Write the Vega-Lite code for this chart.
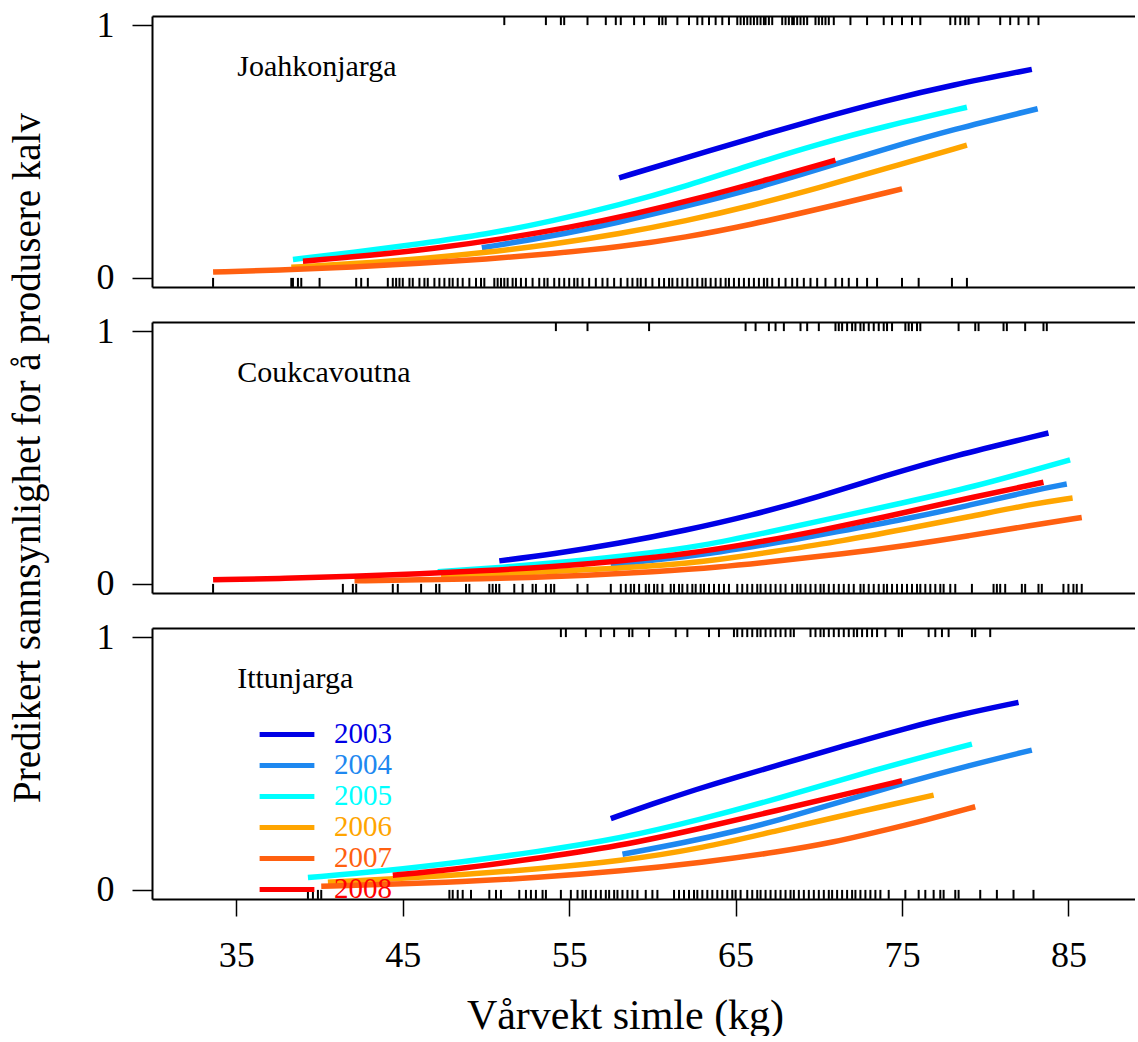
{
  "$schema": "https://vega.github.io/schema/vega-lite/v6.json",
  "padding": {"left": 8, "top": 7, "right": 0, "bottom": 0},
  "config": {
    "font": "Liberation Serif",
    "view": {"stroke": null},
    "axis": {"labelFont": "Liberation Serif", "titleFont": "Liberation Serif", "labelColor": "black", "titleColor": "black", "tickColor": "black", "titleFontWeight": "normal", "grid": false, "domain": true, "domainColor": "black", "domainWidth": 2, "tickWidth": 1.5},
    "text": {"font": "Liberation Serif", "fontSize": 30, "align": "left", "baseline": "alphabetic", "color": "black"},
    "tick": {"opacity": 1, "thickness": 2, "color": "black"}
  },
  "datasets": {
    "labels": [{"panel":"J","label":"Joahkonjarga","w":35.05,"p":0.80},{"panel":"C","label":"Coukcavoutna","w":35.05,"p":0.80},{"panel":"I","label":"Ittunjarga","w":35.05,"p":0.80}],
    "curves": [
      {"panel":"J","year":"2003","w":58.0,"p":0.396},{"panel":"J","year":"2003","w":62,"p":0.474},{"panel":"J","year":"2003","w":66,"p":0.554},{"panel":"J","year":"2003","w":70,"p":0.630},{"panel":"J","year":"2003","w":74,"p":0.701},{"panel":"J","year":"2003","w":78,"p":0.763},{"panel":"J","year":"2003","w":82.8,"p":0.825},
      {"panel":"J","year":"2004","w":49.75,"p":0.119},{"panel":"J","year":"2004","w":54,"p":0.165},{"panel":"J","year":"2004","w":58,"p":0.220},{"panel":"J","year":"2004","w":62,"p":0.283},{"panel":"J","year":"2004","w":66,"p":0.350},{"panel":"J","year":"2004","w":70,"p":0.430},{"panel":"J","year":"2004","w":74,"p":0.510},{"panel":"J","year":"2004","w":78,"p":0.586},{"panel":"J","year":"2004","w":83.15,"p":0.669},
      {"panel":"J","year":"2005","w":38.4,"p":0.073},{"panel":"J","year":"2005","w":42,"p":0.100},{"panel":"J","year":"2005","w":46,"p":0.135},{"panel":"J","year":"2005","w":50,"p":0.172},{"panel":"J","year":"2005","w":54,"p":0.225},{"panel":"J","year":"2005","w":58,"p":0.288},{"panel":"J","year":"2005","w":62,"p":0.362},{"panel":"J","year":"2005","w":66,"p":0.449},{"panel":"J","year":"2005","w":70,"p":0.530},{"panel":"J","year":"2005","w":74,"p":0.600},{"panel":"J","year":"2005","w":78.9,"p":0.675},
      {"panel":"J","year":"2006","w":38.3,"p":0.042},{"panel":"J","year":"2006","w":42,"p":0.056},{"panel":"J","year":"2006","w":46,"p":0.075},{"panel":"J","year":"2006","w":50,"p":0.100},{"panel":"J","year":"2006","w":54,"p":0.133},{"panel":"J","year":"2006","w":58,"p":0.174},{"panel":"J","year":"2006","w":62,"p":0.225},{"panel":"J","year":"2006","w":66,"p":0.286},{"panel":"J","year":"2006","w":70,"p":0.356},{"panel":"J","year":"2006","w":74,"p":0.432},{"panel":"J","year":"2006","w":78.9,"p":0.525},
      {"panel":"J","year":"2007","w":33.6,"p":0.023},{"panel":"J","year":"2007","w":38,"p":0.032},{"panel":"J","year":"2007","w":42,"p":0.043},{"panel":"J","year":"2007","w":46,"p":0.057},{"panel":"J","year":"2007","w":50,"p":0.074},{"panel":"J","year":"2007","w":54,"p":0.096},{"panel":"J","year":"2007","w":58,"p":0.122},{"panel":"J","year":"2007","w":62,"p":0.160},{"panel":"J","year":"2007","w":66,"p":0.212},{"panel":"J","year":"2007","w":70,"p":0.272},{"panel":"J","year":"2007","w":75,"p":0.352},
      {"panel":"J","year":"2008","w":39,"p":0.066},{"panel":"J","year":"2008","w":43,"p":0.088},{"panel":"J","year":"2008","w":47,"p":0.117},{"panel":"J","year":"2008","w":51,"p":0.154},{"panel":"J","year":"2008","w":55,"p":0.199},{"panel":"J","year":"2008","w":59,"p":0.254},{"panel":"J","year":"2008","w":63,"p":0.318},{"panel":"J","year":"2008","w":67,"p":0.390},{"panel":"J","year":"2008","w":71,"p":0.466},
      {"panel":"C","year":"2003","w":50.8,"p":0.091},{"panel":"C","year":"2003","w":54,"p":0.118},{"panel":"C","year":"2003","w":58,"p":0.160},{"panel":"C","year":"2003","w":62,"p":0.212},{"panel":"C","year":"2003","w":66,"p":0.272},{"panel":"C","year":"2003","w":70,"p":0.345},{"panel":"C","year":"2003","w":74,"p":0.428},{"panel":"C","year":"2003","w":78,"p":0.505},{"panel":"C","year":"2003","w":83.8,"p":0.597},
      {"panel":"C","year":"2004","w":57.5,"p":0.076},{"panel":"C","year":"2004","w":61,"p":0.100},{"panel":"C","year":"2004","w":64,"p":0.125},{"panel":"C","year":"2004","w":67.6,"p":0.164},{"panel":"C","year":"2004","w":71,"p":0.205},{"panel":"C","year":"2004","w":75.2,"p":0.256},{"panel":"C","year":"2004","w":79,"p":0.310},{"panel":"C","year":"2004","w":82.8,"p":0.369},{"panel":"C","year":"2004","w":84.9,"p":0.395},
      {"panel":"C","year":"2005","w":47.1,"p":0.048},{"panel":"C","year":"2005","w":51,"p":0.065},{"panel":"C","year":"2005","w":55,"p":0.088},{"panel":"C","year":"2005","w":59,"p":0.115},{"panel":"C","year":"2005","w":63,"p":0.150},{"panel":"C","year":"2005","w":67,"p":0.205},{"panel":"C","year":"2005","w":71,"p":0.262},{"panel":"C","year":"2005","w":75,"p":0.320},{"panel":"C","year":"2005","w":79,"p":0.378},{"panel":"C","year":"2005","w":85.1,"p":0.491},
      {"panel":"C","year":"2006","w":47.3,"p":0.032},{"panel":"C","year":"2006","w":51,"p":0.040},{"panel":"C","year":"2006","w":55,"p":0.052},{"panel":"C","year":"2006","w":60,"p":0.069},{"panel":"C","year":"2006","w":64,"p":0.095},{"panel":"C","year":"2006","w":67.6,"p":0.131},{"panel":"C","year":"2006","w":71.4,"p":0.170},{"panel":"C","year":"2006","w":75.2,"p":0.217},{"panel":"C","year":"2006","w":79,"p":0.265},{"panel":"C","year":"2006","w":82.8,"p":0.316},{"panel":"C","year":"2006","w":85.25,"p":0.340},
      {"panel":"C","year":"2007","w":42.1,"p":0.012},{"panel":"C","year":"2007","w":46,"p":0.016},{"panel":"C","year":"2007","w":50,"p":0.020},{"panel":"C","year":"2007","w":52.4,"p":0.025},{"panel":"C","year":"2007","w":56,"p":0.033},{"panel":"C","year":"2007","w":60,"p":0.048},{"panel":"C","year":"2007","w":64,"p":0.066},{"panel":"C","year":"2007","w":67.6,"p":0.091},{"panel":"C","year":"2007","w":71.4,"p":0.118},{"panel":"C","year":"2007","w":75.2,"p":0.151},{"panel":"C","year":"2007","w":79,"p":0.190},{"panel":"C","year":"2007","w":82.8,"p":0.232},{"panel":"C","year":"2007","w":85.8,"p":0.263},
      {"panel":"C","year":"2008","w":33.6,"p":0.016},{"panel":"C","year":"2008","w":38,"p":0.022},{"panel":"C","year":"2008","w":42,"p":0.030},{"panel":"C","year":"2008","w":46,"p":0.040},{"panel":"C","year":"2008","w":50,"p":0.052},{"panel":"C","year":"2008","w":54,"p":0.068},{"panel":"C","year":"2008","w":58,"p":0.090},{"panel":"C","year":"2008","w":62,"p":0.118},{"panel":"C","year":"2008","w":66,"p":0.160},{"panel":"C","year":"2008","w":70,"p":0.210},{"panel":"C","year":"2008","w":74,"p":0.265},{"panel":"C","year":"2008","w":78,"p":0.325},{"panel":"C","year":"2008","w":83.5,"p":0.402},
      {"panel":"I","year":"2003","w":57.5,"p":0.282},{"panel":"I","year":"2003","w":60,"p":0.340},{"panel":"I","year":"2003","w":62.65,"p":0.398},{"panel":"I","year":"2003","w":65,"p":0.445},{"panel":"I","year":"2003","w":67.6,"p":0.494},{"panel":"I","year":"2003","w":71.4,"p":0.568},{"panel":"I","year":"2003","w":75.2,"p":0.639},{"panel":"I","year":"2003","w":78.5,"p":0.694},{"panel":"I","year":"2003","w":82.0,"p":0.742},
      {"panel":"I","year":"2004","w":58.2,"p":0.141},{"panel":"I","year":"2004","w":62,"p":0.188},{"panel":"I","year":"2004","w":65,"p":0.232},{"panel":"I","year":"2004","w":67.6,"p":0.276},{"panel":"I","year":"2004","w":71.4,"p":0.350},{"panel":"I","year":"2004","w":75.2,"p":0.424},{"panel":"I","year":"2004","w":79,"p":0.492},{"panel":"I","year":"2004","w":82.8,"p":0.553},
      {"panel":"I","year":"2005","w":39.3,"p":0.049},{"panel":"I","year":"2005","w":44,"p":0.075},{"panel":"I","year":"2005","w":48.6,"p":0.111},{"panel":"I","year":"2005","w":53,"p":0.150},{"panel":"I","year":"2005","w":58.1,"p":0.203},{"panel":"I","year":"2005","w":63,"p":0.280},{"panel":"I","year":"2005","w":67.6,"p":0.362},{"panel":"I","year":"2005","w":73.3,"p":0.474},{"panel":"I","year":"2005","w":79.2,"p":0.577},
      {"panel":"I","year":"2006","w":40.5,"p":0.030},{"panel":"I","year":"2006","w":44,"p":0.042},{"panel":"I","year":"2006","w":48.6,"p":0.060},{"panel":"I","year":"2006","w":53,"p":0.082},{"panel":"I","year":"2006","w":58.1,"p":0.114},{"panel":"I","year":"2006","w":63,"p":0.165},{"panel":"I","year":"2006","w":67.6,"p":0.236},{"panel":"I","year":"2006","w":71.4,"p":0.293},{"panel":"I","year":"2006","w":73.3,"p":0.322},{"panel":"I","year":"2006","w":76.9,"p":0.375},
      {"panel":"I","year":"2007","w":40.1,"p":0.014},{"panel":"I","year":"2007","w":44,"p":0.022},{"panel":"I","year":"2007","w":48.6,"p":0.032},{"panel":"I","year":"2007","w":53,"p":0.048},{"panel":"I","year":"2007","w":58.1,"p":0.074},{"panel":"I","year":"2007","w":63,"p":0.108},{"panel":"I","year":"2007","w":67.6,"p":0.150},{"panel":"I","year":"2007","w":71,"p":0.190},{"panel":"I","year":"2007","w":73.3,"p":0.226},{"panel":"I","year":"2007","w":76.5,"p":0.277},{"panel":"I","year":"2007","w":79.4,"p":0.329},
      {"panel":"I","year":"2008","w":44.4,"p":0.058},{"panel":"I","year":"2008","w":48,"p":0.080},{"panel":"I","year":"2008","w":52.4,"p":0.118},{"panel":"I","year":"2008","w":58.1,"p":0.174},{"panel":"I","year":"2008","w":63,"p":0.245},{"panel":"I","year":"2008","w":67.6,"p":0.316},{"panel":"I","year":"2008","w":71.4,"p":0.375},{"panel":"I","year":"2008","w":75.0,"p":0.432}
    ],
    "rug": [
      {"panel":"J","calf":1,"w":51.1},{"panel":"J","calf":1,"w":53.6},{"panel":"J","calf":1,"w":54.5},{"panel":"J","calf":1,"w":54.7},{"panel":"J","calf":1,"w":56.1},{"panel":"J","calf":1,"w":57.2},{"panel":"J","calf":1,"w":57.8},{"panel":"J","calf":1,"w":58.1},{"panel":"J","calf":1,"w":58.9},{"panel":"J","calf":1,"w":59.5},{"panel":"J","calf":1,"w":60.4},{"panel":"J","calf":1,"w":60.6},{"panel":"J","calf":1,"w":60.8},{"panel":"J","calf":1,"w":61.5},{"panel":"J","calf":1,"w":62.2},{"panel":"J","calf":1,"w":62.7},{"panel":"J","calf":1,"w":63.0},{"panel":"J","calf":1,"w":63.4},{"panel":"J","calf":1,"w":63.8},{"panel":"J","calf":1,"w":64.2},{"panel":"J","calf":1,"w":64.6},{"panel":"J","calf":1,"w":65.1},{"panel":"J","calf":1,"w":65.3},{"panel":"J","calf":1,"w":65.5},{"panel":"J","calf":1,"w":65.7},{"panel":"J","calf":1,"w":65.9},{"panel":"J","calf":1,"w":66.1},{"panel":"J","calf":1,"w":66.3},{"panel":"J","calf":1,"w":66.5},{"panel":"J","calf":1,"w":66.7},{"panel":"J","calf":1,"w":66.8},{"panel":"J","calf":1,"w":67.0},{"panel":"J","calf":1,"w":67.2},{"panel":"J","calf":1,"w":67.8},{"panel":"J","calf":1,"w":68.0},{"panel":"J","calf":1,"w":68.2},{"panel":"J","calf":1,"w":68.4},{"panel":"J","calf":1,"w":68.5},{"panel":"J","calf":1,"w":68.7},{"panel":"J","calf":1,"w":68.9},{"panel":"J","calf":1,"w":69.1},{"panel":"J","calf":1,"w":69.3},{"panel":"J","calf":1,"w":69.8},{"panel":"J","calf":1,"w":70.0},{"panel":"J","calf":1,"w":70.2},{"panel":"J","calf":1,"w":70.4},{"panel":"J","calf":1,"w":70.6},{"panel":"J","calf":1,"w":70.9},{"panel":"J","calf":1,"w":71.9},{"panel":"J","calf":1,"w":72.9},{"panel":"J","calf":1,"w":73.9},{"panel":"J","calf":1,"w":74.4},{"panel":"J","calf":1,"w":75.0},{"panel":"J","calf":1,"w":75.6},{"panel":"J","calf":1,"w":76.1},{"panel":"J","calf":1,"w":77.9},{"panel":"J","calf":1,"w":78.2},{"panel":"J","calf":1,"w":78.5},{"panel":"J","calf":1,"w":78.8},{"panel":"J","calf":1,"w":79.0},{"panel":"J","calf":1,"w":79.6},{"panel":"J","calf":1,"w":80.9},{"panel":"J","calf":1,"w":81.5},{"panel":"J","calf":1,"w":82.0},{"panel":"J","calf":1,"w":82.6},{"panel":"J","calf":1,"w":83.2},
      {"panel":"J","calf":0,"w":33.6},{"panel":"J","calf":0,"w":38.3},{"panel":"J","calf":0,"w":38.4},{"panel":"J","calf":0,"w":38.7},{"panel":"J","calf":0,"w":38.9},{"panel":"J","calf":0,"w":40.0},{"panel":"J","calf":0,"w":42.2},{"panel":"J","calf":0,"w":42.5},{"panel":"J","calf":0,"w":42.9},{"panel":"J","calf":0,"w":44.1},{"panel":"J","calf":0,"w":44.4},{"panel":"J","calf":0,"w":44.6},{"panel":"J","calf":0,"w":44.8},{"panel":"J","calf":0,"w":45.0},{"panel":"J","calf":0,"w":45.4},{"panel":"J","calf":0,"w":45.6},{"panel":"J","calf":0,"w":46.0},{"panel":"J","calf":0,"w":46.3},{"panel":"J","calf":0,"w":46.5},{"panel":"J","calf":0,"w":46.9},{"panel":"J","calf":0,"w":47.2},{"panel":"J","calf":0,"w":47.5},{"panel":"J","calf":0,"w":47.8},{"panel":"J","calf":0,"w":48.0},{"panel":"J","calf":0,"w":48.3},{"panel":"J","calf":0,"w":48.6},{"panel":"J","calf":0,"w":49.0},{"panel":"J","calf":0,"w":49.4},{"panel":"J","calf":0,"w":49.7},{"panel":"J","calf":0,"w":49.9},{"panel":"J","calf":0,"w":50.5},{"panel":"J","calf":0,"w":50.7},{"panel":"J","calf":0,"w":50.9},{"panel":"J","calf":0,"w":51.1},{"panel":"J","calf":0,"w":51.3},{"panel":"J","calf":0,"w":51.6},{"panel":"J","calf":0,"w":51.8},{"panel":"J","calf":0,"w":52.1},{"panel":"J","calf":0,"w":52.4},{"panel":"J","calf":0,"w":52.8},{"panel":"J","calf":0,"w":53.2},{"panel":"J","calf":0,"w":53.5},{"panel":"J","calf":0,"w":53.7},{"panel":"J","calf":0,"w":54.1},{"panel":"J","calf":0,"w":54.4},{"panel":"J","calf":0,"w":54.7},{"panel":"J","calf":0,"w":55.0},{"panel":"J","calf":0,"w":55.3},{"panel":"J","calf":0,"w":55.5},{"panel":"J","calf":0,"w":55.8},{"panel":"J","calf":0,"w":56.2},{"panel":"J","calf":0,"w":56.6},{"panel":"J","calf":0,"w":57.0},{"panel":"J","calf":0,"w":57.3},{"panel":"J","calf":0,"w":57.7},{"panel":"J","calf":0,"w":58.1},{"panel":"J","calf":0,"w":58.5},{"panel":"J","calf":0,"w":58.8},{"panel":"J","calf":0,"w":59.1},{"panel":"J","calf":0,"w":59.3},{"panel":"J","calf":0,"w":59.6},{"panel":"J","calf":0,"w":60.0},{"panel":"J","calf":0,"w":60.4},{"panel":"J","calf":0,"w":60.7},{"panel":"J","calf":0,"w":61.0},{"panel":"J","calf":0,"w":61.2},{"panel":"J","calf":0,"w":61.5},{"panel":"J","calf":0,"w":61.8},{"panel":"J","calf":0,"w":62.1},{"panel":"J","calf":0,"w":62.4},{"panel":"J","calf":0,"w":62.7},{"panel":"J","calf":0,"w":63.0},{"panel":"J","calf":0,"w":63.2},{"panel":"J","calf":0,"w":63.5},{"panel":"J","calf":0,"w":63.8},{"panel":"J","calf":0,"w":64.1},{"panel":"J","calf":0,"w":64.4},{"panel":"J","calf":0,"w":64.6},{"panel":"J","calf":0,"w":64.9},{"panel":"J","calf":0,"w":65.2},{"panel":"J","calf":0,"w":65.5},{"panel":"J","calf":0,"w":65.8},{"panel":"J","calf":0,"w":66.1},{"panel":"J","calf":0,"w":66.4},{"panel":"J","calf":0,"w":66.7},{"panel":"J","calf":0,"w":66.9},{"panel":"J","calf":0,"w":67.2},{"panel":"J","calf":0,"w":67.6},{"panel":"J","calf":0,"w":68.0},{"panel":"J","calf":0,"w":68.4},{"panel":"J","calf":0,"w":68.7},{"panel":"J","calf":0,"w":69.1},{"panel":"J","calf":0,"w":69.5},{"panel":"J","calf":0,"w":69.9},{"panel":"J","calf":0,"w":70.4},{"panel":"J","calf":0,"w":71.0},{"panel":"J","calf":0,"w":71.4},{"panel":"J","calf":0,"w":71.8},{"panel":"J","calf":0,"w":72.3},{"panel":"J","calf":0,"w":72.9},{"panel":"J","calf":0,"w":73.5},{"panel":"J","calf":0,"w":75.0},{"panel":"J","calf":0,"w":76.0},{"panel":"J","calf":0,"w":78.0},{"panel":"J","calf":0,"w":78.9},
      {"panel":"C","calf":1,"w":54.2},{"panel":"C","calf":1,"w":56.1},{"panel":"C","calf":1,"w":59.8},{"panel":"C","calf":1,"w":65.6},{"panel":"C","calf":1,"w":66.2},{"panel":"C","calf":1,"w":67.0},{"panel":"C","calf":1,"w":67.4},{"panel":"C","calf":1,"w":67.9},{"panel":"C","calf":1,"w":68.9},{"panel":"C","calf":1,"w":69.3},{"panel":"C","calf":1,"w":70.0},{"panel":"C","calf":1,"w":71.0},{"panel":"C","calf":1,"w":71.2},{"panel":"C","calf":1,"w":71.4},{"panel":"C","calf":1,"w":71.7},{"panel":"C","calf":1,"w":72.0},{"panel":"C","calf":1,"w":72.2},{"panel":"C","calf":1,"w":72.5},{"panel":"C","calf":1,"w":72.7},{"panel":"C","calf":1,"w":73.0},{"panel":"C","calf":1,"w":73.3},{"panel":"C","calf":1,"w":73.6},{"panel":"C","calf":1,"w":73.9},{"panel":"C","calf":1,"w":74.1},{"panel":"C","calf":1,"w":74.4},{"panel":"C","calf":1,"w":75.2},{"panel":"C","calf":1,"w":75.4},{"panel":"C","calf":1,"w":75.6},{"panel":"C","calf":1,"w":75.9},{"panel":"C","calf":1,"w":76.1},{"panel":"C","calf":1,"w":78.4},{"panel":"C","calf":1,"w":79.4},{"panel":"C","calf":1,"w":79.6},{"panel":"C","calf":1,"w":81.1},{"panel":"C","calf":1,"w":81.3},{"panel":"C","calf":1,"w":82.4},{"panel":"C","calf":1,"w":83.5},{"panel":"C","calf":1,"w":83.7},
      {"panel":"C","calf":0,"w":33.6},{"panel":"C","calf":0,"w":41.4},{"panel":"C","calf":0,"w":42.0},{"panel":"C","calf":0,"w":42.2},{"panel":"C","calf":0,"w":44.4},{"panel":"C","calf":0,"w":44.7},{"panel":"C","calf":0,"w":46.1},{"panel":"C","calf":0,"w":47.0},{"panel":"C","calf":0,"w":47.2},{"panel":"C","calf":0,"w":48.8},{"panel":"C","calf":0,"w":49.0},{"panel":"C","calf":0,"w":50.2},{"panel":"C","calf":0,"w":50.4},{"panel":"C","calf":0,"w":50.6},{"panel":"C","calf":0,"w":50.8},{"panel":"C","calf":0,"w":51.7},{"panel":"C","calf":0,"w":52.2},{"panel":"C","calf":0,"w":52.8},{"panel":"C","calf":0,"w":53.0},{"panel":"C","calf":0,"w":53.6},{"panel":"C","calf":0,"w":53.9},{"panel":"C","calf":0,"w":54.1},{"panel":"C","calf":0,"w":55.5},{"panel":"C","calf":0,"w":56.1},{"panel":"C","calf":0,"w":57.5},{"panel":"C","calf":0,"w":58.1},{"panel":"C","calf":0,"w":58.4},{"panel":"C","calf":0,"w":58.7},{"panel":"C","calf":0,"w":58.9},{"panel":"C","calf":0,"w":59.2},{"panel":"C","calf":0,"w":59.6},{"panel":"C","calf":0,"w":59.8},{"panel":"C","calf":0,"w":60.1},{"panel":"C","calf":0,"w":60.3},{"panel":"C","calf":0,"w":60.6},{"panel":"C","calf":0,"w":61.1},{"panel":"C","calf":0,"w":61.3},{"panel":"C","calf":0,"w":61.6},{"panel":"C","calf":0,"w":61.8},{"panel":"C","calf":0,"w":62.1},{"panel":"C","calf":0,"w":62.4},{"panel":"C","calf":0,"w":62.6},{"panel":"C","calf":0,"w":62.9},{"panel":"C","calf":0,"w":63.1},{"panel":"C","calf":0,"w":63.4},{"panel":"C","calf":0,"w":63.7},{"panel":"C","calf":0,"w":64.0},{"panel":"C","calf":0,"w":64.3},{"panel":"C","calf":0,"w":64.6},{"panel":"C","calf":0,"w":65.1},{"panel":"C","calf":0,"w":65.4},{"panel":"C","calf":0,"w":65.7},{"panel":"C","calf":0,"w":66.0},{"panel":"C","calf":0,"w":66.3},{"panel":"C","calf":0,"w":66.5},{"panel":"C","calf":0,"w":66.8},{"panel":"C","calf":0,"w":67.1},{"panel":"C","calf":0,"w":67.4},{"panel":"C","calf":0,"w":67.7},{"panel":"C","calf":0,"w":68.0},{"panel":"C","calf":0,"w":68.4},{"panel":"C","calf":0,"w":68.7},{"panel":"C","calf":0,"w":68.9},{"panel":"C","calf":0,"w":69.2},{"panel":"C","calf":0,"w":69.5},{"panel":"C","calf":0,"w":69.8},{"panel":"C","calf":0,"w":70.1},{"panel":"C","calf":0,"w":70.3},{"panel":"C","calf":0,"w":70.6},{"panel":"C","calf":0,"w":70.9},{"panel":"C","calf":0,"w":71.2},{"panel":"C","calf":0,"w":71.5},{"panel":"C","calf":0,"w":71.8},{"panel":"C","calf":0,"w":72.1},{"panel":"C","calf":0,"w":72.5},{"panel":"C","calf":0,"w":72.7},{"panel":"C","calf":0,"w":73.0},{"panel":"C","calf":0,"w":73.3},{"panel":"C","calf":0,"w":73.6},{"panel":"C","calf":0,"w":73.9},{"panel":"C","calf":0,"w":74.1},{"panel":"C","calf":0,"w":74.4},{"panel":"C","calf":0,"w":74.7},{"panel":"C","calf":0,"w":75.0},{"panel":"C","calf":0,"w":75.3},{"panel":"C","calf":0,"w":75.6},{"panel":"C","calf":0,"w":75.9},{"panel":"C","calf":0,"w":76.1},{"panel":"C","calf":0,"w":76.4},{"panel":"C","calf":0,"w":76.7},{"panel":"C","calf":0,"w":77.0},{"panel":"C","calf":0,"w":77.3},{"panel":"C","calf":0,"w":77.5},{"panel":"C","calf":0,"w":77.9},{"panel":"C","calf":0,"w":78.2},{"panel":"C","calf":0,"w":79.2},{"panel":"C","calf":0,"w":80.5},{"panel":"C","calf":0,"w":80.7},{"panel":"C","calf":0,"w":80.9},{"panel":"C","calf":0,"w":81.2},{"panel":"C","calf":0,"w":82.2},{"panel":"C","calf":0,"w":82.4},{"panel":"C","calf":0,"w":83.2},{"panel":"C","calf":0,"w":83.4},{"panel":"C","calf":0,"w":84.7},{"panel":"C","calf":0,"w":85.0},{"panel":"C","calf":0,"w":85.3},{"panel":"C","calf":0,"w":85.5},{"panel":"C","calf":0,"w":85.8},
      {"panel":"I","calf":1,"w":54.5},{"panel":"I","calf":1,"w":54.8},{"panel":"I","calf":1,"w":56.0},{"panel":"I","calf":1,"w":56.9},{"panel":"I","calf":1,"w":57.7},{"panel":"I","calf":1,"w":58.6},{"panel":"I","calf":1,"w":58.8},{"panel":"I","calf":1,"w":59.8},{"panel":"I","calf":1,"w":61.4},{"panel":"I","calf":1,"w":62.1},{"panel":"I","calf":1,"w":63.4},{"panel":"I","calf":1,"w":64.0},{"panel":"I","calf":1,"w":64.9},{"panel":"I","calf":1,"w":65.1},{"panel":"I","calf":1,"w":65.4},{"panel":"I","calf":1,"w":65.7},{"panel":"I","calf":1,"w":66.0},{"panel":"I","calf":1,"w":66.3},{"panel":"I","calf":1,"w":66.5},{"panel":"I","calf":1,"w":66.8},{"panel":"I","calf":1,"w":67.1},{"panel":"I","calf":1,"w":67.4},{"panel":"I","calf":1,"w":67.7},{"panel":"I","calf":1,"w":68.0},{"panel":"I","calf":1,"w":68.3},{"panel":"I","calf":1,"w":68.5},{"panel":"I","calf":1,"w":69.5},{"panel":"I","calf":1,"w":69.8},{"panel":"I","calf":1,"w":70.1},{"panel":"I","calf":1,"w":70.3},{"panel":"I","calf":1,"w":70.6},{"panel":"I","calf":1,"w":70.9},{"panel":"I","calf":1,"w":71.2},{"panel":"I","calf":1,"w":71.5},{"panel":"I","calf":1,"w":71.8},{"panel":"I","calf":1,"w":72.1},{"panel":"I","calf":1,"w":72.3},{"panel":"I","calf":1,"w":72.6},{"panel":"I","calf":1,"w":72.9},{"panel":"I","calf":1,"w":73.2},{"panel":"I","calf":1,"w":73.5},{"panel":"I","calf":1,"w":74.0},{"panel":"I","calf":1,"w":74.8},{"panel":"I","calf":1,"w":75.0},{"panel":"I","calf":1,"w":76.6},{"panel":"I","calf":1,"w":77.0},{"panel":"I","calf":1,"w":77.4},{"panel":"I","calf":1,"w":77.8},{"panel":"I","calf":1,"w":79.2},{"panel":"I","calf":1,"w":79.4},{"panel":"I","calf":1,"w":80.3},
      {"panel":"I","calf":0,"w":39.3},{"panel":"I","calf":0,"w":39.6},{"panel":"I","calf":0,"w":39.9},{"panel":"I","calf":0,"w":40.1},{"panel":"I","calf":0,"w":47.8},{"panel":"I","calf":0,"w":48.0},{"panel":"I","calf":0,"w":48.3},{"panel":"I","calf":0,"w":48.6},{"panel":"I","calf":0,"w":49.1},{"panel":"I","calf":0,"w":50.2},{"panel":"I","calf":0,"w":50.6},{"panel":"I","calf":0,"w":50.9},{"panel":"I","calf":0,"w":52.0},{"panel":"I","calf":0,"w":52.4},{"panel":"I","calf":0,"w":52.7},{"panel":"I","calf":0,"w":53.0},{"panel":"I","calf":0,"w":53.4},{"panel":"I","calf":0,"w":53.6},{"panel":"I","calf":0,"w":54.5},{"panel":"I","calf":0,"w":55.1},{"panel":"I","calf":0,"w":55.5},{"panel":"I","calf":0,"w":55.8},{"panel":"I","calf":0,"w":56.0},{"panel":"I","calf":0,"w":56.3},{"panel":"I","calf":0,"w":56.6},{"panel":"I","calf":0,"w":56.9},{"panel":"I","calf":0,"w":57.2},{"panel":"I","calf":0,"w":57.4},{"panel":"I","calf":0,"w":57.7},{"panel":"I","calf":0,"w":57.9},{"panel":"I","calf":0,"w":58.2},{"panel":"I","calf":0,"w":58.5},{"panel":"I","calf":0,"w":58.8},{"panel":"I","calf":0,"w":59.1},{"panel":"I","calf":0,"w":59.6},{"panel":"I","calf":0,"w":60.0},{"panel":"I","calf":0,"w":60.3},{"panel":"I","calf":0,"w":61.3},{"panel":"I","calf":0,"w":61.6},{"panel":"I","calf":0,"w":61.9},{"panel":"I","calf":0,"w":62.2},{"panel":"I","calf":0,"w":62.5},{"panel":"I","calf":0,"w":62.7},{"panel":"I","calf":0,"w":63.0},{"panel":"I","calf":0,"w":63.3},{"panel":"I","calf":0,"w":63.6},{"panel":"I","calf":0,"w":63.9},{"panel":"I","calf":0,"w":64.2},{"panel":"I","calf":0,"w":64.5},{"panel":"I","calf":0,"w":64.8},{"panel":"I","calf":0,"w":65.0},{"panel":"I","calf":0,"w":65.3},{"panel":"I","calf":0,"w":65.7},{"panel":"I","calf":0,"w":66.0},{"panel":"I","calf":0,"w":66.3},{"panel":"I","calf":0,"w":66.5},{"panel":"I","calf":0,"w":66.8},{"panel":"I","calf":0,"w":67.1},{"panel":"I","calf":0,"w":67.4},{"panel":"I","calf":0,"w":67.7},{"panel":"I","calf":0,"w":68.0},{"panel":"I","calf":0,"w":68.3},{"panel":"I","calf":0,"w":68.5},{"panel":"I","calf":0,"w":68.8},{"panel":"I","calf":0,"w":69.1},{"panel":"I","calf":0,"w":69.4},{"panel":"I","calf":0,"w":69.7},{"panel":"I","calf":0,"w":70.0},{"panel":"I","calf":0,"w":70.3},{"panel":"I","calf":0,"w":70.6},{"panel":"I","calf":0,"w":70.8},{"panel":"I","calf":0,"w":71.1},{"panel":"I","calf":0,"w":71.4},{"panel":"I","calf":0,"w":71.7},{"panel":"I","calf":0,"w":72.0},{"panel":"I","calf":0,"w":72.2},{"panel":"I","calf":0,"w":72.5},{"panel":"I","calf":0,"w":72.8},{"panel":"I","calf":0,"w":73.1},{"panel":"I","calf":0,"w":73.4},{"panel":"I","calf":0,"w":73.7},{"panel":"I","calf":0,"w":74.2},{"panel":"I","calf":0,"w":75.2},{"panel":"I","calf":0,"w":76.0},{"panel":"I","calf":0,"w":76.4},{"panel":"I","calf":0,"w":76.9},{"panel":"I","calf":0,"w":77.3},{"panel":"I","calf":0,"w":77.5},{"panel":"I","calf":0,"w":78.2},{"panel":"I","calf":0,"w":78.4},{"panel":"I","calf":0,"w":79.7},{"panel":"I","calf":0,"w":80.7},{"panel":"I","calf":0,"w":81.7},{"panel":"I","calf":0,"w":82.9}
    ]
  },
  "vconcat": [
    {
      "width": 983, "height": 271,
      "resolve": {"axis": {"x": "independent"}},
      "layer": [
        {"data": {"name": "curves"}, "transform": [{"filter": "datum.panel == 'J'"}],
         "mark": {"type": "line", "strokeWidth": 5.5, "interpolate": "basis"},
         "encoding": {
           "x": {"field": "w", "type": "quantitative", "scale": {"domain": [29.93, 89], "nice": false, "zero": false}, "axis": {"orient": "bottom", "labels": false, "ticks": false, "title": null}},
           "y": {"field": "p", "type": "quantitative", "scale": {"domain": [-0.036, 1.036], "nice": false, "zero": false}, "axis": {"values": [0, 1], "format": "d", "tickSize": 20, "labelFontSize": 36, "labelPadding": 18, "title": null}},
           "color": {"field": "year", "type": "nominal", "scale": {"domain": ["2003","2004","2005","2006","2007","2008"], "range": ["#0000E6","#1E88F0","#00FFFF","#FFA500","#FF6010","#FF0000"]}, "legend": null}
         }},
        {"data": {"name": "rug"}, "transform": [{"filter": "datum.panel == 'J' && datum.calf == 1"}],
         "mark": {"type": "tick", "orient": "vertical", "size": 9, "yOffset": -4.5},
         "encoding": {"x": {"field": "w", "type": "quantitative", "axis": {"orient": "top", "labels": false, "ticks": false, "title": null}}, "y": {"field": "calf", "type": "quantitative"}}},
        {"data": {"name": "rug"}, "transform": [{"filter": "datum.panel == 'J' && datum.calf == 0"}],
         "mark": {"type": "tick", "orient": "vertical", "size": 9, "yOffset": 4.5},
         "encoding": {"x": {"field": "w", "type": "quantitative", "axis": null}, "y": {"field": "calf", "type": "quantitative"}}},
        {"data": {"name": "labels"}, "transform": [{"filter": "datum.panel == 'J'"}],
         "mark": {"type": "text"},
         "encoding": {"x": {"field": "w", "type": "quantitative", "axis": null}, "y": {"field": "p", "type": "quantitative"}, "text": {"field": "label"}}}
      ]
    },
    {
      "width": 983, "height": 271,
      "resolve": {"axis": {"x": "independent"}},
      "layer": [
        {"data": {"name": "curves"}, "transform": [{"filter": "datum.panel == 'C'"}],
         "mark": {"type": "line", "strokeWidth": 5.5, "interpolate": "basis"},
         "encoding": {
           "x": {"field": "w", "type": "quantitative", "scale": {"domain": [29.93, 89], "nice": false, "zero": false}, "axis": {"orient": "bottom", "labels": false, "ticks": false, "title": null}},
           "y": {"field": "p", "type": "quantitative", "scale": {"domain": [-0.036, 1.036], "nice": false, "zero": false}, "axis": {"values": [0, 1], "format": "d", "tickSize": 20, "labelFontSize": 36, "labelPadding": 18, "title": "Predikert sannsynlighet for å produsere kalv", "titleFontSize": 39, "titlePadding": 49}},
           "color": {"field": "year", "type": "nominal", "scale": {"domain": ["2003","2004","2005","2006","2007","2008"], "range": ["#0000E6","#1E88F0","#00FFFF","#FFA500","#FF6010","#FF0000"]}, "legend": null}
         }},
        {"data": {"name": "rug"}, "transform": [{"filter": "datum.panel == 'C' && datum.calf == 1"}],
         "mark": {"type": "tick", "orient": "vertical", "size": 9, "yOffset": -4.5},
         "encoding": {"x": {"field": "w", "type": "quantitative", "axis": {"orient": "top", "labels": false, "ticks": false, "title": null}}, "y": {"field": "calf", "type": "quantitative"}}},
        {"data": {"name": "rug"}, "transform": [{"filter": "datum.panel == 'C' && datum.calf == 0"}],
         "mark": {"type": "tick", "orient": "vertical", "size": 9, "yOffset": 4.5},
         "encoding": {"x": {"field": "w", "type": "quantitative", "axis": null}, "y": {"field": "calf", "type": "quantitative"}}},
        {"data": {"name": "labels"}, "transform": [{"filter": "datum.panel == 'C'"}],
         "mark": {"type": "text"},
         "encoding": {"x": {"field": "w", "type": "quantitative", "axis": null}, "y": {"field": "p", "type": "quantitative"}, "text": {"field": "label"}}}
      ]
    },
    {
      "width": 983, "height": 271,
      "resolve": {"axis": {"x": "independent"}},
      "layer": [
        {"data": {"name": "curves"}, "transform": [{"filter": "datum.panel == 'I'"}],
         "mark": {"type": "line", "strokeWidth": 5.5, "interpolate": "basis"},
         "encoding": {
           "x": {"field": "w", "type": "quantitative", "scale": {"domain": [29.93, 89], "nice": false, "zero": false}, "axis": {"orient": "bottom", "values": [35, 45, 55, 65, 75, 85], "tickSize": 17, "labelFontSize": 36, "labelPadding": 22, "title": "Vårvekt simle (kg)", "titleFontSize": 42, "titlePadding": 22, "titleX": 473}},
           "y": {"field": "p", "type": "quantitative", "scale": {"domain": [-0.036, 1.036], "nice": false, "zero": false}, "axis": {"values": [0, 1], "format": "d", "tickSize": 20, "labelFontSize": 36, "labelPadding": 18, "title": null}},
           "color": {"field": "year", "type": "nominal", "scale": {"domain": ["2003","2004","2005","2006","2007","2008"], "range": ["#0000E6","#1E88F0","#00FFFF","#FFA500","#FF6010","#FF0000"]},
             "legend": {"orient": "none", "legendX": 105, "legendY": 93, "title": null, "symbolType": "stroke", "symbolStrokeWidth": 5, "symbolSize": 3000, "labelFont": "Liberation Serif", "labelFontSize": 29, "labelOffset": 17, "padding": 0, "clipHeight": 26.8, "rowPadding": 1,
               "encode": {"labels": {"update": {"fill": {"signal": "datum.label == '2003' ? '#0000E6' : datum.label == '2004' ? '#1E88F0' : datum.label == '2005' ? '#00FFFF' : datum.label == '2006' ? '#FFA500' : datum.label == '2007' ? '#FF6010' : '#FF0000'"}}}}}}
         }},
        {"data": {"name": "rug"}, "transform": [{"filter": "datum.panel == 'I' && datum.calf == 1"}],
         "mark": {"type": "tick", "orient": "vertical", "size": 9, "yOffset": -4.5},
         "encoding": {"x": {"field": "w", "type": "quantitative", "axis": {"orient": "top", "labels": false, "ticks": false, "title": null}}, "y": {"field": "calf", "type": "quantitative"}}},
        {"data": {"name": "rug"}, "transform": [{"filter": "datum.panel == 'I' && datum.calf == 0"}],
         "mark": {"type": "tick", "orient": "vertical", "size": 9, "yOffset": 4.5},
         "encoding": {"x": {"field": "w", "type": "quantitative", "axis": null}, "y": {"field": "calf", "type": "quantitative"}}},
        {"data": {"name": "labels"}, "transform": [{"filter": "datum.panel == 'I'"}],
         "mark": {"type": "text"},
         "encoding": {"x": {"field": "w", "type": "quantitative", "axis": null}, "y": {"field": "p", "type": "quantitative"}, "text": {"field": "label"}}}
      ]
    }
  ],
  "spacing": 35,
  "bounds": "flush",
  "resolve": {"scale": {"color": "independent", "x": "independent", "y": "independent"}, "legend": {"color": "independent"}}
}
